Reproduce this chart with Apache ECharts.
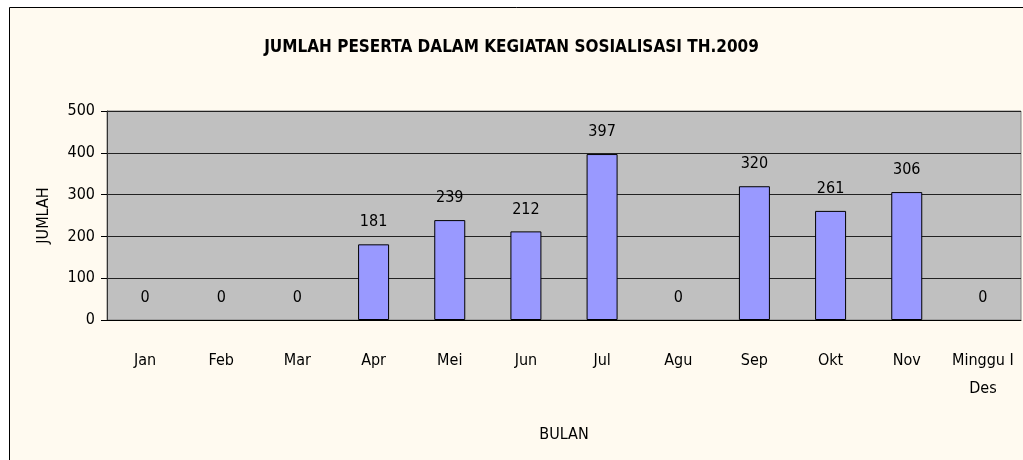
<!DOCTYPE html>
<html>
<head>
<meta charset="utf-8">
<script src="https://cdn.jsdelivr.net/npm/echarts@6/dist/echarts.min.js"></script>
<style>
  html, body { margin: 0; padding: 0; background: #fff; }
  #chart { width: 1023px; height: 460px; }
</style>
</head>
<body>
<div id="chart"></div>
<script>
// data
const months = ['Jan', 'Feb', 'Mar', 'Apr', 'Mei', 'Jun', 'Jul', 'Agu', 'Sep', 'Okt', 'Nov', 'Minggu I\nDes']
const peserta = [0, 0, 0, 181, 239, 212, 397, 0, 320, 261, 306, 0]
const yTicks = [0, 100, 200, 300, 400, 500]

const font = '"DejaVu Sans Condensed", "Liberation Sans Narrow", sans-serif'

const chart = echarts.init(document.getElementById('chart'))
chart.setOption({
  backgroundColor: '#fff',
  animation: false,
  textStyle: { fontFamily: font },
  graphic: [{
    type: 'rect',
    z: -10,
    silent: true,
    shape: { x: 9.5, y: 7.5, width: 1030, height: 470 },
    style: { fill: '#fffaf0', stroke: '#000', lineWidth: 1 }
  }],
  title: {
    text: 'JUMLAH PESERTA DALAM KEGIATAN SOSIALISASI TH.2009',
    left: 'center',
    top: 34,
    textStyle: { fontFamily: font, fontSize: 17, fontWeight: 'bold', color: '#000' }
  },
  grid: {
    left: 107, right: 2, top: 111, bottom: 140,
    show: true,
    backgroundColor: '#c0c0c0',
    borderColor: '#808080',
    borderWidth: 1
  },
  xAxis: {
    type: 'category',
    data: months,
    name: 'BULAN',
    nameLocation: 'middle',
    nameGap: 107,
    nameTextStyle: { fontFamily: font, fontSize: 16, color: '#000' },
    axisLine: { lineStyle: { color: '#000', width: 1 } },
    axisTick: { inside: true, length: 6, lineStyle: { color: '#000' } },
    axisLabel: {
      interval: 0, margin: 27, fontFamily: font, fontSize: 16, color: '#000', lineHeight: 28
    }
  },
  yAxis: {
    type: 'value',
    min: yTicks[0],
    max: yTicks[yTicks.length - 1],
    interval: 100,
    name: 'JUMLAH',
    nameLocation: 'middle',
    nameGap: 55,
    nameTextStyle: { fontFamily: font, fontSize: 16, color: '#000' },
    axisLine: { show: true, lineStyle: { color: '#333', width: 1 } },
    axisTick: { show: true, length: 6, lineStyle: { color: '#000' } },
    axisLabel: { margin: 12, fontFamily: font, fontSize: 16, color: '#000' },
    splitLine: { lineStyle: { color: '#222', width: 1 } }
  },
  series: [{
    type: 'bar',
    // bars with value 0 get no outline, only the label
    data: peserta.map(v => v === 0 ? { value: v, itemStyle: { borderWidth: 0 } } : v),
    barWidth: 31,
    itemStyle: { color: '#9999ff', borderColor: '#000', borderWidth: 1 },
    label: {
      show: true,
      position: 'top',
      distance: 14,
      fontFamily: font,
      fontSize: 16,
      color: '#000'
    }
  }]
})
</script>
</body>
</html>
